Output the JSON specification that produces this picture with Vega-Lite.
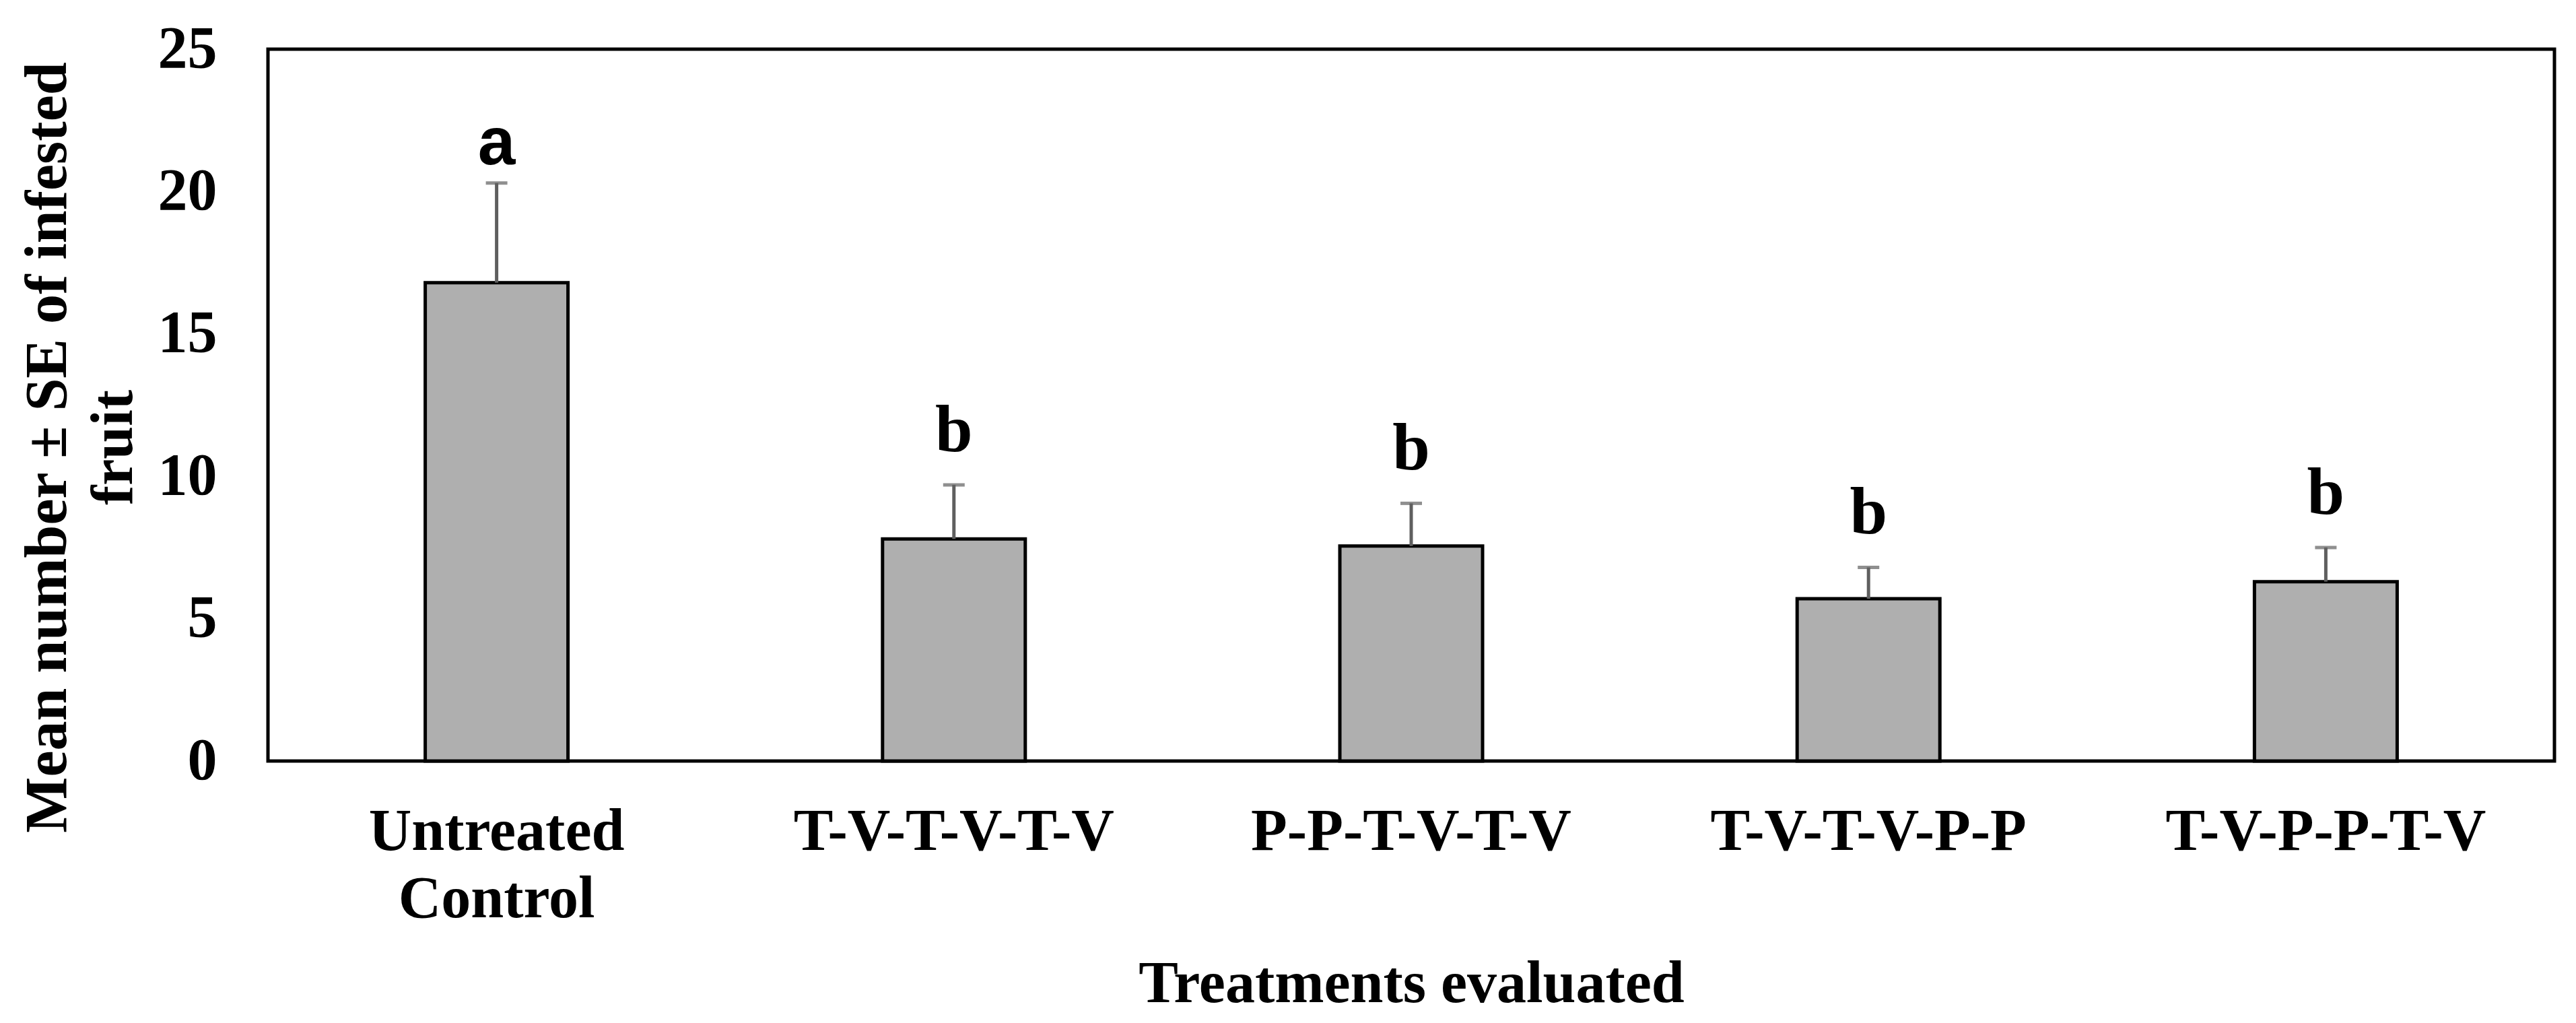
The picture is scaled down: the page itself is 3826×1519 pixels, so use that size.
{
  "$schema": "https://vega.github.io/schema/vega-lite/v6.json",
  "width": 3396,
  "height": 1057,
  "autosize": "none",
  "padding": {"left": 398, "top": 73, "right": 32, "bottom": 389},
  "background": "white",
  "config": {
    "view": {"stroke": "black", "strokeWidth": 5},
    "axis": {"grid": false, "ticks": false, "tickSize": 0, "domain": false, "labelLimit": 0}
  },
  "data": {
    "values": [
      {"treatment": "Untreated Control", "mean": 16.8, "err": 20.3, "letter": "a"},
      {"treatment": "T-V-T-V-T-V", "mean": 7.8, "err": 9.7, "letter": "b"},
      {"treatment": "P-P-T-V-T-V", "mean": 7.55, "err": 9.05, "letter": "b"},
      {"treatment": "T-V-T-V-P-P", "mean": 5.7, "err": 6.8, "letter": "b"},
      {"treatment": "T-V-P-P-T-V", "mean": 6.3, "err": 7.5, "letter": "b"}
    ]
  },
  "encoding": {
    "x": {
      "field": "treatment",
      "type": "nominal",
      "sort": null,
      "scale": {"paddingInner": 0, "paddingOuter": 0},
      "axis": {
        "title": "Treatments evaluated",
        "labelAngle": 0,
        "labelFont": "Liberation Serif",
        "labelFontWeight": "bold",
        "labelFontSize": 88,
        "labelColor": "black",
        "labelPadding": 61,
        "labelBaseline": "top",
        "labelLineHeight": 100,
        "labelLimit": 0,
        "labelExpr": "datum.label == 'Untreated Control' ? ['Untreated', 'Control'] : datum.label",
        "titleFont": "Liberation Serif",
        "titleFontWeight": "bold",
        "titleFontSize": 88,
        "titleColor": "black",
        "titleBaseline": "alphabetic",
        "titleY": 357,
        "titleX": 1698,
        "titleAlign": "center"
      }
    }
  },
  "layer": [
    {
      "mark": {"type": "bar", "size": 212, "fill": "#AFAFAF", "stroke": "black", "strokeWidth": 5},
      "encoding": {
        "y": {
          "field": "mean",
          "type": "quantitative",
          "scale": {"domain": [0, 25], "nice": false},
          "axis": {
            "values": [0, 5, 10, 15, 20, 25],
            "title": ["Mean number ± SE of infested", "fruit"],
            "labelFont": "Liberation Serif",
            "labelFontWeight": "bold",
            "labelFontSize": 88,
            "labelColor": "black",
            "labelPadding": 76,
            "titleFont": "Liberation Serif",
            "titleFontWeight": "bold",
            "titleFontSize": 88,
            "titleColor": "black",
            "titleAngle": -90,
            "titleAlign": "center",
            "titleBaseline": "alphabetic",
            "titleLineHeight": 98,
            "titleX": -301,
            "titleY": 591
          }
        }
      }
    },
    {
      "mark": {"type": "rule", "color": "#5F5F5F", "strokeWidth": 5},
      "encoding": {
        "y": {"field": "mean", "type": "quantitative"},
        "y2": {"field": "err"}
      }
    },
    {
      "mark": {"type": "tick", "color": "#5F5F5F", "size": 32, "thickness": 5},
      "encoding": {
        "y": {"field": "err", "type": "quantitative"}
      }
    },
    {
      "transform": [{"filter": "datum.letter == 'a'"}],
      "mark": {"type": "text", "font": "Liberation Sans", "fontWeight": "bold", "fontSize": 100, "color": "black", "baseline": "alphabetic", "dy": -28},
      "encoding": {
        "y": {"field": "err", "type": "quantitative"},
        "text": {"field": "letter"}
      }
    },
    {
      "transform": [{"filter": "datum.letter == 'b'"}],
      "mark": {"type": "text", "font": "Liberation Serif", "fontWeight": "bold", "fontSize": 100, "color": "black", "baseline": "alphabetic", "dy": -50},
      "encoding": {
        "y": {"field": "err", "type": "quantitative"},
        "text": {"field": "letter"}
      }
    }
  ]
}
